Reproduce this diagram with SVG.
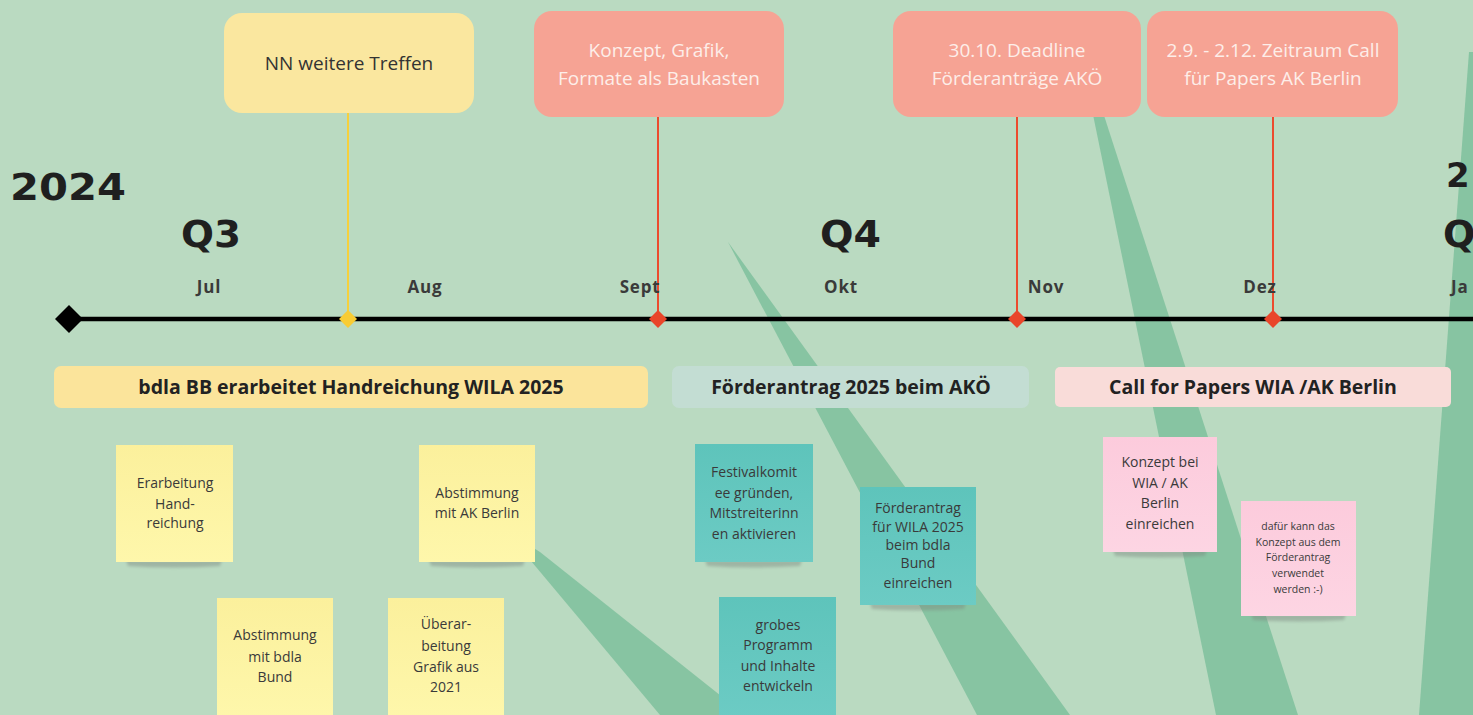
<svg xmlns="http://www.w3.org/2000/svg" width="1473" height="715" viewBox="0 0 1473 715">
<defs>
<filter id="blur" x="-20%" y="-200%" width="140%" height="500%"><feGaussianBlur stdDeviation="1.4"/></filter>
<linearGradient id="gY" x1="0" y1="0" x2="0" y2="1"><stop offset="0" stop-color="#fbf09c"/><stop offset="1" stop-color="#fef7ab"/></linearGradient>
<linearGradient id="gT" x1="0" y1="0" x2="0" y2="1"><stop offset="0" stop-color="#5ec4bb"/><stop offset="1" stop-color="#6ccbc4"/></linearGradient>
<linearGradient id="gP" x1="0" y1="0" x2="0" y2="1"><stop offset="0" stop-color="#fccbdc"/><stop offset="1" stop-color="#fdd5e3"/></linearGradient>
</defs>
<style>
.leaf{fill:#87c4a2}
.axis{stroke:#000;stroke-width:4.5}
.cy{stroke:#f6d03c;stroke-width:2}
.cr{stroke:#ec4b2e;stroke-width:2}
.dy{fill:#f8cc34}
.dr{fill:#e9452a}
.boxY{fill:#fae79f}
.boxR{fill:#f6a394}
.tb{font-family:"Open Sans","Liberation Sans",sans-serif;font-size:19px;text-anchor:middle}
.tdark{fill:#333}
.tlight{fill:#fdeee9}
.year{font-family:"DejaVu Sans","Liberation Sans",sans-serif;font-weight:700;fill:#1f1f1f}
.month{font-family:"Open Sans","Liberation Sans",sans-serif;font-weight:700;font-size:17px;fill:#3a3a3a;text-anchor:middle;letter-spacing:0.8px}
.bar{font-family:"Open Sans","Liberation Sans",sans-serif;font-weight:700;font-size:19.5px;fill:#222;text-anchor:middle}
.st{font-family:"Open Sans","Liberation Sans",sans-serif;font-size:14px;fill:#3a3a3a;text-anchor:middle}
.sts{font-family:"Open Sans","Liberation Sans",sans-serif;font-size:10.5px;fill:#3a3a3a;text-anchor:middle}
.shadow{fill:#7d8880;opacity:0.45;filter:url(#blur)}
.sy{fill:url(#gY)}
.stl{fill:url(#gT)}
.sp{fill:url(#gP)}
</style>
<rect width="1473" height="715" fill="#badac1"/>
<g id="background-leaves">
<path class="leaf" d="M728,242 L1070,715 L977,715 Z"/>
<path class="leaf" d="M1090,100 L1099,100 L1298,715 L1216,715 Z"/>
<path class="leaf" d="M1469,52 L1473,52 L1473,715 L1419,715 Z"/>
<path class="leaf" d="M505,530 L540,552 L745,715 L660,715 Z"/>
</g>
<g id="connectors">
<line class="axis" x1="68" y1="319" x2="1473" y2="319"/>
<line class="cy" x1="348" y1="113" x2="348" y2="319"/>
<line class="cr" x1="658" y1="117" x2="658" y2="319"/>
<line class="cr" x1="1017" y1="117" x2="1017" y2="319"/>
<line class="cr" x1="1273" y1="117" x2="1273" y2="319"/>
<path d="M55,319 L69,305 L83,319 L69,333 Z" fill="#000"/>
<path class="dy" d="M339,319 L348,310 L357,319 L348,328 Z"/>
<path class="dr" d="M649,319 L658,310 L667,319 L658,328 Z"/>
<path class="dr" d="M1008,319 L1017,310 L1026,319 L1017,328 Z"/>
<path class="dr" d="M1264,319 L1273,310 L1282,319 L1273,328 Z"/>
</g>
<g id="labels">
<text class="year" x="10" y="200" font-size="38" textLength="116" lengthAdjust="spacingAndGlyphs">2024</text>
<text class="year" x="181" y="247" font-size="38" textLength="60" lengthAdjust="spacingAndGlyphs">Q3</text>
<text class="year" x="820" y="247" font-size="38" textLength="61" lengthAdjust="spacingAndGlyphs">Q4</text>
<text class="year" x="1446" y="187" font-size="34">2</text>
<text class="year" x="1443" y="247" font-size="38">Q</text>
<text class="month" x="209" y="293">Jul</text>
<text class="month" x="425" y="293">Aug</text>
<text class="month" x="640" y="293">Sept</text>
<text class="month" x="841" y="293">Okt</text>
<text class="month" x="1046" y="293">Nov</text>
<text class="month" x="1260" y="293">Dez</text>
<text class="month" x="1451" y="293" style="text-anchor:start">Ja</text>
</g>
<g id="event-nn">
<rect class="boxY" x="224" y="13" width="250" height="100" rx="18"/>
<text class="tb tdark" x="349" y="70">NN weitere Treffen</text>
</g>
<g id="event-konzept">
<rect class="boxR" x="534" y="11" width="250" height="106" rx="18"/>
<text class="tb tlight" x="659" y="57">Konzept, Grafik,</text>
<text class="tb tlight" x="659" y="85">Formate als Baukasten</text>
</g>
<g id="event-deadline">
<rect class="boxR" x="893" y="11" width="248" height="106" rx="18"/>
<text class="tb tlight" x="1017" y="57">30.10. Deadline</text>
<text class="tb tlight" x="1017" y="85">Förderanträge AKÖ</text>
</g>
<g id="event-call">
<rect class="boxR" x="1147" y="11" width="251" height="106" rx="18"/>
<text class="tb tlight" x="1273" y="57">2.9. - 2.12. Zeitraum Call</text>
<text class="tb tlight" x="1273" y="85">für Papers AK Berlin</text>
</g>
<g id="phase-handreichung">
<rect x="54" y="366" width="594" height="42" rx="7" fill="#fbe49b"/>
<text class="bar" x="351" y="394">bdla BB erarbeitet Handreichung WILA 2025</text>
</g>
<g id="phase-foerderantrag">
<rect x="672" y="366" width="357" height="42" rx="7" fill="#c3ddd3"/>
<text class="bar" x="851" y="394">Förderantrag 2025 beim AKÖ</text>
</g>
<g id="phase-call">
<rect x="1055" y="367" width="396" height="40" rx="5" fill="#f9dcd9"/>
<text class="bar" x="1253" y="394">Call for Papers WIA /AK Berlin</text>
</g>
<g id="sticky-erarbeitung">
<path class="shadow" d="M126,560 L222,560 L220,566 Q174,569 128,566 Z"/>
<rect class="sy" x="116" y="445" width="117" height="117"/>
<text class="st" x="175" y="488">Erarbeitung</text>
<text class="st" x="175" y="509">Hand-</text>
<text class="st" x="175" y="528">reichung</text>
</g>
<g id="sticky-abstimmung-ak">
<path class="shadow" d="M429,560 L525,560 L523,566 Q477,569 431,566 Z"/>
<rect class="sy" x="419" y="445" width="116" height="117"/>
<text class="st" x="477" y="498">Abstimmung</text>
<text class="st" x="477" y="518">mit AK Berlin</text>
</g>
<g id="sticky-abstimmung-bdla">
<rect class="sy" x="217" y="598" width="116" height="120"/>
<text class="st" x="275" y="640">Abstimmung</text>
<text class="st" x="275" y="662">mit bdla</text>
<text class="st" x="275" y="682">Bund</text>
</g>
<g id="sticky-ueberarbeitung">
<rect class="sy" x="388" y="598" width="116" height="120"/>
<text class="st" x="446" y="629">Überar-</text>
<text class="st" x="446" y="651">beitung</text>
<text class="st" x="446" y="672">Grafik aus</text>
<text class="st" x="446" y="692">2021</text>
</g>
<g id="sticky-festivalkomitee">
<path class="shadow" d="M705,560 L802,560 L800,566 Q753,569 707,566 Z"/>
<rect class="stl" x="695" y="444" width="118" height="118"/>
<text class="st" x="754" y="477">Festivalkomit</text>
<text class="st" x="754" y="498">ee gründen,</text>
<text class="st" x="754" y="518">Mitstreiterinn</text>
<text class="st" x="754" y="539">en aktivieren</text>
</g>
<g id="sticky-programm">
<rect class="stl" x="719" y="597" width="117" height="121"/>
<text class="st" x="778" y="630">grobes</text>
<text class="st" x="778" y="650">Programm</text>
<text class="st" x="778" y="671">und Inhalte</text>
<text class="st" x="778" y="691">entwickeln</text>
</g>
<g id="sticky-foerderantrag-bdla">
<path class="shadow" d="M870,603 L966,603 L964,609 Q918,612 872,609 Z"/>
<rect class="stl" x="860" y="487" width="116" height="118"/>
<text class="st" x="918" y="513">Förderantrag</text>
<text class="st" x="918" y="532">für WILA 2025</text>
<text class="st" x="918" y="550">beim bdla</text>
<text class="st" x="918" y="568">Bund</text>
<text class="st" x="918" y="588">einreichen</text>
</g>
<g id="sticky-konzept-wia">
<path class="shadow" d="M1113,550 L1207,550 L1205,556 Q1160,559 1115,556 Z"/>
<rect class="sp" x="1103" y="437" width="114" height="115"/>
<text class="st" x="1160" y="467">Konzept bei</text>
<text class="st" x="1160" y="488">WIA / AK</text>
<text class="st" x="1160" y="508">Berlin</text>
<text class="st" x="1160" y="529">einreichen</text>
</g>
<g id="sticky-dafuer">
<path class="shadow" d="M1251,614 L1346,614 L1344,620 Q1298,623 1253,620 Z"/>
<rect class="sp" x="1241" y="501" width="115" height="115"/>
<text class="sts" x="1298" y="530">dafür kann das</text>
<text class="sts" x="1298" y="546">Konzept aus dem</text>
<text class="sts" x="1298" y="561">Förderantrag</text>
<text class="sts" x="1298" y="577">verwendet</text>
<text class="sts" x="1298" y="593">werden :-)</text>
</g>
</svg>
